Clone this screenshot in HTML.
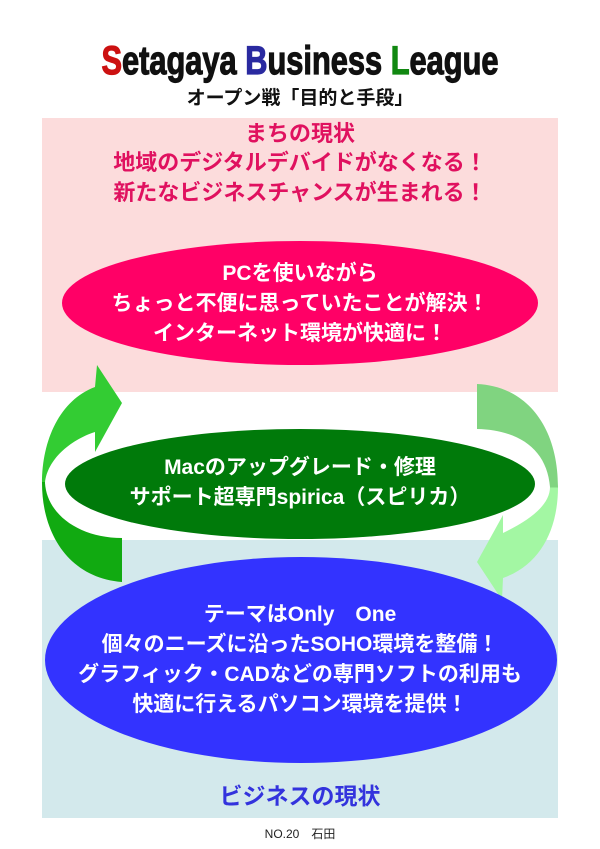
<!DOCTYPE html>
<html><head><meta charset="utf-8"><style>
html,body{margin:0;padding:0;background:#fff;}
svg{display:block;}
text{font-family:"Liberation Sans","Noto Sans CJK JP",sans-serif;font-weight:bold;text-anchor:middle;}
</style></head><body>
<svg width="600" height="849" viewBox="0 0 600 849" xmlns="http://www.w3.org/2000/svg">
<defs>
<linearGradient id="gl" gradientUnits="userSpaceOnUse" x1="0" y1="365" x2="0" y2="582"><stop offset="0" stop-color="#33cc33"/><stop offset="0.54" stop-color="#33cc33"/><stop offset="0.54" stop-color="#11aa11"/><stop offset="1" stop-color="#11aa11"/></linearGradient>
<linearGradient id="gr" gradientUnits="userSpaceOnUse" x1="0" y1="384" x2="0" y2="600"><stop offset="0" stop-color="#80d480"/><stop offset="0.48" stop-color="#80d480"/><stop offset="0.48" stop-color="#a3f7a3"/><stop offset="1" stop-color="#a3f7a3"/></linearGradient>
</defs>
<text x="300" y="74" font-size="40" fill="#111" stroke-width="1.2" transform="translate(300,0) scale(0.77,1) translate(-300,0)"><tspan fill="#cc1111" stroke="#cc1111">S</tspan><tspan stroke="#111">etagaya </tspan><tspan fill="#2a2aa0" stroke="#2a2aa0">B</tspan><tspan stroke="#111">usiness </tspan><tspan fill="#118811" stroke="#118811">L</tspan><tspan stroke="#111">eague</tspan></text>
<text x="300" y="104" font-size="19" fill="#111">オープン戦「目的と手段」</text>
<rect x="42" y="118" width="516" height="274" fill="#fcdcdc"/>
<rect x="42" y="540" width="516" height="278" fill="#d3e9ec"/>
<text x="300" y="141" font-size="22" fill="#e0115f">まちの現状</text>
<text x="300" y="170" font-size="22" fill="#e0115f">地域のデジタルデバイドがなくなる！</text>
<text x="300" y="200" font-size="22" fill="#e0115f">新たなビジネスチャンスが生まれる！</text>
<ellipse cx="300" cy="303" rx="238" ry="62" fill="#ff0066"/>
<text x="300" y="280" font-size="21" fill="#fff">PCを使いながら</text>
<text x="300" y="310" font-size="21" fill="#fff">ちょっと不便に思っていたことが解決！</text>
<text x="300" y="340" font-size="21" fill="#fff">インターネット環境が快適に！</text>
<path d="M122,582 C70,578 42,535 42,483 C42,440 60,400 95,387 L97,365 L122,403 L95,452 L95,432 C70,440 47,460 45,483 C47,515 80,538 122,538 Z" fill="url(#gl)"/>
<path d="M477,384 C525,386 558,425 558,487 C558,530 540,565 503,578 L502,600 L477,562 L503,515 L503,533 C530,520 550,505 550,487 C547,450 520,430 477,429 Z" fill="url(#gr)"/>
<ellipse cx="300" cy="484" rx="235" ry="55" fill="#007a0a"/>
<text x="300" y="474" font-size="21" fill="#fff">Macのアップグレード・修理</text>
<text x="300" y="504" font-size="21" fill="#fff">サポート超専門spirica（スピリカ）</text>
<ellipse cx="301" cy="660" rx="256" ry="103" fill="#3333ff"/>
<text x="300" y="621" font-size="21" fill="#fff" xml:space="preserve">テーマはOnly　One</text>
<text x="300" y="651" font-size="21" fill="#fff">個々のニーズに沿ったSOHO環境を整備！</text>
<text x="300" y="681" font-size="21" fill="#fff">グラフィック・CADなどの専門ソフトの利用も</text>
<text x="300" y="711" font-size="21" fill="#fff">快適に行えるパソコン環境を提供！</text>
<text x="300" y="804" font-size="23" fill="#3333dd">ビジネスの現状</text>
<text x="300" y="838" font-size="12" fill="#222" style="font-weight:normal">NO.20　石田</text>
</svg>
</body></html>
